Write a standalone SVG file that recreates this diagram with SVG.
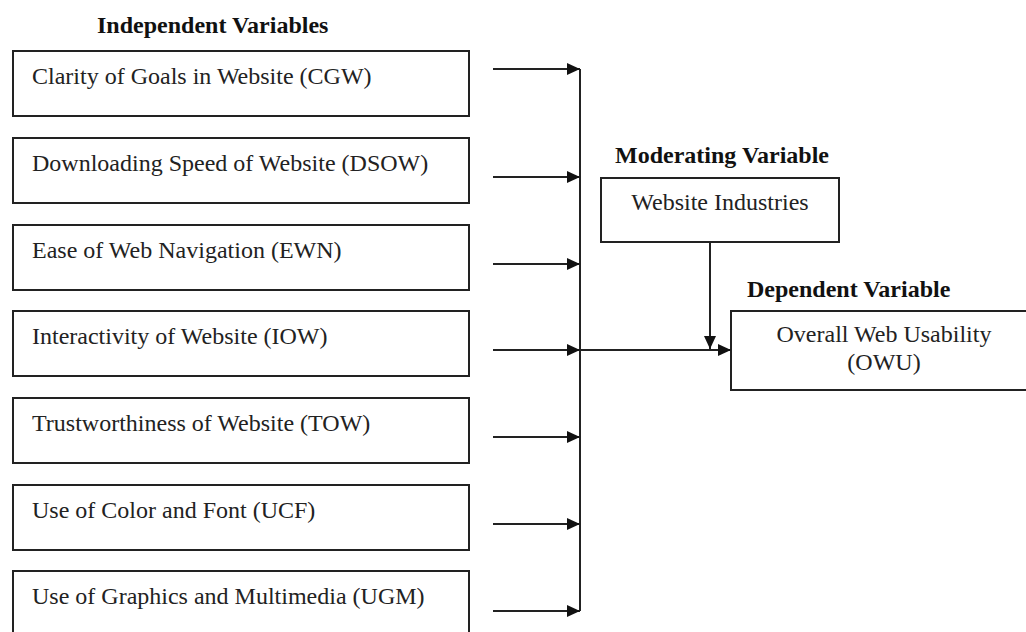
<svg xmlns="http://www.w3.org/2000/svg" width="1026" height="632" viewBox="0 0 1026 632">
<style>
.box{fill:#fff;stroke:#222;stroke-width:2}
.t{font-family:"Liberation Serif","Times New Roman",serif;font-size:24px;fill:#222}
.h{font-family:"Liberation Serif","Times New Roman",serif;font-size:24px;font-weight:bold;fill:#111}
.ln{fill:none;stroke:#222;stroke-width:2}
</style>
<defs>
<marker id="ah" markerUnits="userSpaceOnUse" markerWidth="14" markerHeight="12" refX="13" refY="6" orient="auto">
<path d="M0,0 L13,6 L0,12 z" fill="#111"/>
</marker>
</defs>
<rect width="1026" height="632" fill="#fff"/>
<text class="h" x="97" y="33">Independent Variables</text>
<text class="h" x="615" y="163">Moderating Variable</text>
<text class="h" x="747" y="297">Dependent Variable</text>
<g id="cgw"><rect class="box" x="13" y="51" width="456" height="65"/><text class="t" x="32" y="83.5">Clarity of Goals in Website (CGW)</text></g>
<g id="dsow"><rect class="box" x="13" y="138" width="456" height="65"/><text class="t" x="32" y="170.5">Downloading Speed of Website (DSOW)</text></g>
<g id="ewn"><rect class="box" x="13" y="225" width="456" height="65"/><text class="t" x="32" y="257.5">Ease of Web Navigation (EWN)</text></g>
<g id="iow"><rect class="box" x="13" y="311" width="456" height="65"/><text class="t" x="32" y="343.5">Interactivity of Website (IOW)</text></g>
<g id="tow"><rect class="box" x="13" y="398" width="456" height="65"/><text class="t" x="32" y="430.5">Trustworthiness of Website (TOW)</text></g>
<g id="ucf"><rect class="box" x="13" y="485" width="456" height="65"/><text class="t" x="32" y="517.5">Use of Color and Font (UCF)</text></g>
<g id="ugm"><rect class="box" x="13" y="571" width="456" height="65"/><text class="t" x="32" y="603.5">Use of Graphics and Multimedia (UGM)</text></g>
<g id="wi"><rect class="box" x="601" y="178" width="238" height="64"/><text class="t" x="720" y="210" text-anchor="middle">Website Industries</text></g>
<g id="owu"><rect class="box" x="731" y="311" width="310" height="79"/><text class="t" x="884" y="342" text-anchor="middle">Overall Web Usability</text><text class="t" x="884" y="370" text-anchor="middle">(OWU)</text></g>
<g id="connectors">
<line class="ln" x1="580" y1="69" x2="580" y2="611"/>
<line class="ln" x1="493" y1="69" x2="580" y2="69" marker-end="url(#ah)"/>
<line class="ln" x1="493" y1="177" x2="580" y2="177" marker-end="url(#ah)"/>
<line class="ln" x1="493" y1="264" x2="580" y2="264" marker-end="url(#ah)"/>
<line class="ln" x1="493" y1="350" x2="580" y2="350" marker-end="url(#ah)"/>
<line class="ln" x1="493" y1="437" x2="580" y2="437" marker-end="url(#ah)"/>
<line class="ln" x1="493" y1="524" x2="580" y2="524" marker-end="url(#ah)"/>
<line class="ln" x1="493" y1="611" x2="580" y2="611" marker-end="url(#ah)"/>
<line class="ln" x1="580" y1="350" x2="731" y2="350" marker-end="url(#ah)"/>
<line class="ln" x1="710" y1="242" x2="710" y2="349" marker-end="url(#ah)"/>
</g>
</svg>
